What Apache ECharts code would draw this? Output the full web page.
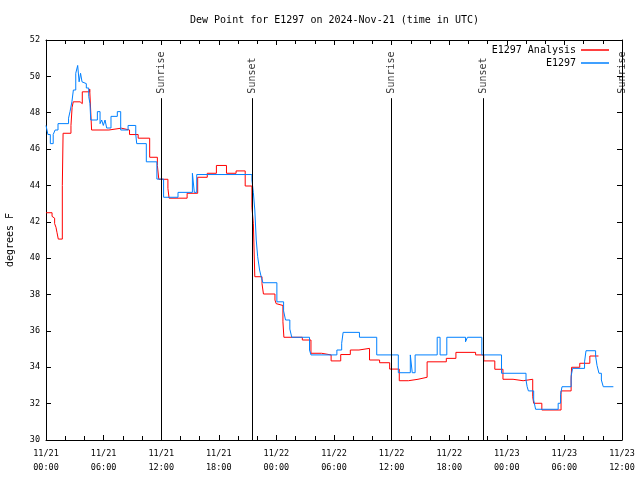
<!DOCTYPE html>
<html>
<head>
<meta charset="utf-8">
<script src="https://cdn.jsdelivr.net/npm/echarts@6/dist/echarts.min.js"></script>
<style>html,body{margin:0;padding:0;background:#fff}#c{width:640px;height:480px}</style>
</head>
<body>
<div id="c"></div>
<script>
// Hours since 2024-11-21 00:00 UTC
const analysisTimes = [0,0.63,0.76,0.9,1.04,1.15,1.28,1.7,1.78,2.6,2.72,2.84,3.55,3.78,4.55,4.75,6.55,7.85,8.7,9.6,10.8,11.6,11.75,12.7,12.82,14.7,15.8,16.8,17.75,18.8,19.8,20.75,21.45,21.6,21.75,22.5,22.65,23.85,23.97,24.13,24.68,24.78,26.7,27.6,28.7,29.7,30.7,31.7,32.6,33.7,34.75,35.8,36.8,37.75,38.75,39.7,41.7,42.7,44.75,45.6,46.75,47.6,48.65,49.7,50.7,50.8,51.65,53.65,54.7,54.75,55.6,56.65,57.55];
const analysisValues = [42.5,42.3,42.2,41.9,41.7,41.4,41.05,44.0,46.87,47.3,48.3,48.6,48.5,49.15,49.3,47.05,47.15,47.05,46.8,46.6,45.55,45.1,44.34,43.84,43.3,43.57,44.45,44.67,45.1,44.67,44.8,43.97,42.8,41.9,38.98,38.6,38.03,37.7,37.5,37.4,36.5,35.65,35.5,34.77,34.68,34.35,34.7,34.95,35.04,34.4,34.25,33.9,33.26,33.34,33.45,34.3,34.49,34.82,34.68,34.35,33.89,33.34,33.26,33.34,32.38,32.02,31.65,32.7,33.3,34.0,34.22,34.62,34.62];

const obsTimes = [0,0.2,0.45,0.75,0.95,1.25,2.35,2.5,2.7,2.85,3.1,3.3,3.45,3.6,3.75,3.9,4.2,4.45,4.58,4.66,5.35,5.63,5.8,5.97,6.15,6.32,6.77,7.43,7.78,8.55,9.35,9.45,10.45,11.55,12.25,13.75,15.25,15.45,15.7,21.45,21.6,21.75,21.9,22.05,22.25,22.45,22.6,24.05,24.75,24.95,25.4,25.6,27.45,27.6,30.3,30.8,30.95,32.65,34.45,36.7,37.95,38.15,38.45,40.75,41.05,41.75,43.7,43.9,45.4,47.45,50.0,50.12,50.25,50.8,51.0,53.35,53.6,53.75,54.7,54.85,56.1,56.25,57.25,57.4,57.6,57.85,58.05,59.1];
const obsValues = [47.3,46.8,46.3,46.8,47.05,47.4,47.7,48.06,48.6,49.25,50.17,50.6,49.7,50.17,49.7,49.6,49.36,48.9,48.5,47.6,48.06,47.4,47.6,47.3,47.6,47.16,47.8,48.06,47.05,47.3,46.8,46.3,45.3,44.35,43.35,43.62,44.67,43.62,44.6,44.3,43.6,42.65,41.0,40.08,39.35,38.9,38.65,37.6,37.1,36.6,36.1,35.65,34.95,34.68,34.95,35.32,35.92,35.65,34.68,33.7,34.68,33.7,34.68,35.65,34.68,35.65,35.4,35.65,34.68,33.67,33.3,32.93,32.7,32.2,31.69,32.02,32.5,32.93,33.5,33.94,34.3,34.91,34.62,34.1,33.67,33.3,32.93,32.93];

const sunTimes = [11.98, 21.46, 35.94, 45.52, 60];
const sunNames = ['Sunrise', 'Sunset', 'Sunrise', 'Sunset', 'Sunrise'];

const yTicks = {min: 30, max: 52, step: 2};
const xTicks = {min: 0, max: 60, step: 6};
const dayLabels = ['11/21', '11/22', '11/23'];

const MONO = '"DejaVu Sans Mono", "Liberation Mono", monospace';

function pairs(ts, vs) { return ts.map((t, i) => [t, vs[i]]); }

function xLabel(h) {
  const d = Math.floor(h / 24 + 1e-9);
  const hr = Math.round(h - d * 24);
  return dayLabels[d] + '\n' + String(hr).padStart(2, '0') + ':00';
}

const chart = echarts.init(document.getElementById('c'), null, {renderer: 'canvas'});

const axisCommonX = {
  type: 'value', min: xTicks.min, max: xTicks.max, interval: xTicks.step,
  axisLine: {show: true, onZero: false, lineStyle: {color: '#000', width: 1}},
  axisTick: {show: true, inside: true, length: 5, lineStyle: {color: '#000'}},
  minorTick: {show: true, splitNumber: 3, length: 4, lineStyle: {color: '#000'}},
  splitLine: {show: false}
};
const axisCommonY = {
  type: 'value', min: yTicks.min, max: yTicks.max, interval: yTicks.step,
  axisLine: {show: true, onZero: false, lineStyle: {color: '#000', width: 1}},
  axisTick: {show: true, inside: true, length: 5, lineStyle: {color: '#000'}},
  splitLine: {show: false}
};

chart.setOption({
  animation: false,
  backgroundColor: '#fff',
  textStyle: {fontFamily: MONO},
  title: {
    text: 'Dew Point for E1297 on 2024-Nov-21 (time in UTC)',
    left: 185, top: 10,
    textStyle: {fontFamily: MONO, fontSize: 10, fontWeight: 'normal', color: '#000'}
  },
  legend: [
    {data: ['E1297 Analysis'], right: 26, top: 40, orient: 'vertical', align: 'right',
     icon: 'rect', itemWidth: 28, itemHeight: 1.5,
     textStyle: {fontFamily: MONO, fontSize: 10, color: '#000'}},
    {data: ['E1297'], right: 26, top: 53, orient: 'vertical', align: 'right',
     icon: 'rect', itemWidth: 28, itemHeight: 1.5,
     textStyle: {fontFamily: MONO, fontSize: 10, color: '#000'}}
  ],
  grid: {left: 46, right: 18, top: 40, bottom: 40, containLabel: false, outerBoundsMode: 'none'},
  xAxis: [
    Object.assign({}, axisCommonX, {
      position: 'bottom',
      axisLabel: {show: true, margin: 7, color: '#000', fontFamily: MONO, fontSize: 8.5, lineHeight: 14,
        formatter: xLabel}
    }),
    Object.assign({}, axisCommonX, {position: 'top', axisLabel: {show: false}})
  ],
  yAxis: [
    Object.assign({}, axisCommonY, {
      position: 'left',
      name: 'degrees F', nameLocation: 'middle', nameRotate: 90, nameGap: 31,
      nameTextStyle: {fontFamily: MONO, fontSize: 10, color: '#000'},
      axisLabel: {show: true, margin: 6, color: '#000', fontFamily: MONO, fontSize: 8.5}
    }),
    Object.assign({}, axisCommonY, {position: 'right', axisLabel: {show: false}})
  ],
  series: [
    {
      name: 'E1297 Analysis', type: 'line', step: 'end', symbol: 'none',
      data: pairs(analysisTimes, analysisValues),
      lineStyle: {color: '#ff0000', width: 1}, itemStyle: {color: '#ff0000'},
      markLine: {
        silent: true, symbol: 'none', label: {show: false},
        lineStyle: {color: '#000', width: 1, type: 'solid'},
        data: sunTimes.map(t => [{coord: [t, yTicks.min]}, {coord: [t, 48.8]}])
      }
    },
    {
      name: 'E1297', type: 'line', step: 'end', symbol: 'none',
      data: pairs(obsTimes, obsValues),
      lineStyle: {color: '#0080ff', width: 1}, itemStyle: {color: '#0080ff'}
    },
    {
      name: 'sun', type: 'scatter', symbolSize: 0, silent: true,
      data: sunTimes.map((t, i) => ({value: [t, 49.05], name: sunNames[i]})),
      label: {show: true, position: 'inside', rotate: 90, align: 'left', verticalAlign: 'middle',
        formatter: p => p.name, color: '#000', fontFamily: MONO, fontSize: 10},
      clip: false
    }
  ]
});
</script>
</body>
</html>
